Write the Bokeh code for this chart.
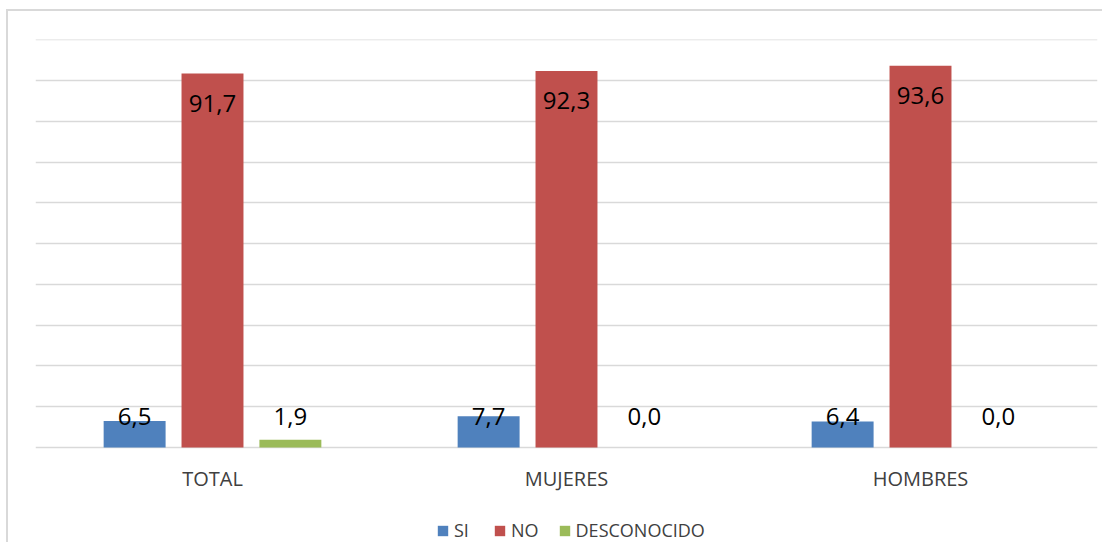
from bokeh.plotting import figure
from bokeh.models import FactorRange, Range1d, Legend, LegendItem, FixedTicker, ColumnDataSource
from bokeh.transform import dodge
from bokeh.core.properties import value
from bokeh.embed import file_html
from bokeh.resources import INLINE

categories = ["TOTAL", "MUJERES", "HOMBRES"]
si = [6.5, 7.7, 6.4]
no = [91.7, 92.3, 93.6]
desconocido = [1.9, 0.0, 0.0]
series_names = ["SI", "NO", "DESCONOCIDO"]
series_values = [si, no, desconocido]
colors = ["#4F81BD", "#C0504D", "#9BBB59"]
offsets = [-0.22, 0.0, 0.22]
y_ticks = list(range(0, 101, 10))

FONT = value("Open Sans")

p = figure(
    x_range=FactorRange(*categories, range_padding=0),
    y_range=Range1d(-23.77, 100.05),
    width=1096, height=533,
    output_backend="svg", toolbar_location=None,
    min_border_left=27, min_border_right=7, min_border_top=28, min_border_bottom=0,
)
p.styles = {"border-top": "2px solid #d9d9d9", "border-left": "2px solid #d9d9d9",
            "margin-left": "6px", "margin-top": "9px"}
p.outline_line_color = None
p.background_fill_color = "white"
p.border_fill_color = "white"

p.yaxis.visible = False
p.xaxis.visible = False
p.ygrid.ticker = FixedTicker(ticks=y_ticks)
p.ygrid.grid_line_color = "#d9d9d9"
p.ygrid.grid_line_width = 1.5
p.xgrid.grid_line_color = None

# category labels below the baseline
p.text(x=categories, y=[-7.47] * len(categories), text=categories,
       text_align="center", text_baseline="middle",
       text_font=FONT, text_font_size="20px", text_color="#404040")

items = []
for name, vals, col, off in zip(series_names, series_values, colors, offsets):
    src = ColumnDataSource(dict(x=categories, top=vals))
    r = p.vbar(x=dodge("x", off, range=p.x_range), top="top", bottom=0, width=0.175,
               source=src, fill_color=col, line_color=None)
    items.append(LegendItem(label=name, renderers=[r]))

    labels = [f"{v:.1f}".replace(".", ",") for v in vals]
    big = [i for i, v in enumerate(vals) if v >= 50]
    small = [i for i, v in enumerate(vals) if v < 50]
    if big:
        sb = ColumnDataSource(dict(x=[categories[i] for i in big], y=[vals[i] for i in big],
                                   t=[labels[i] for i in big]))
        p.text(x=dodge("x", off, range=p.x_range), y="y", text="t", source=sb,
               text_align="center", text_baseline="top", y_offset=21,
               text_font=FONT, text_font_size="24px", text_color="black")
    if small:
        ss = ColumnDataSource(dict(x=[categories[i] for i in small], y=[7.5] * len(small),
                                   t=[labels[i] for i in small]))
        p.text(x=dodge("x", off, range=p.x_range), y="y", text="t", source=ss,
               text_align="center", text_baseline="middle",
               text_font=FONT, text_font_size="24px", text_color="black")

legend = Legend(items=items, orientation="horizontal", location=(401, 2),
                glyph_width=13, glyph_height=13, label_standoff=5, spacing=19,
                padding=0, margin=0, border_line_color=None, background_fill_alpha=0,
                label_text_font="Open Sans", label_text_font_size="18px",
                label_text_color="#404040")
p.add_layout(legend)

open("out.html", "w").write(file_html(p, INLINE))
